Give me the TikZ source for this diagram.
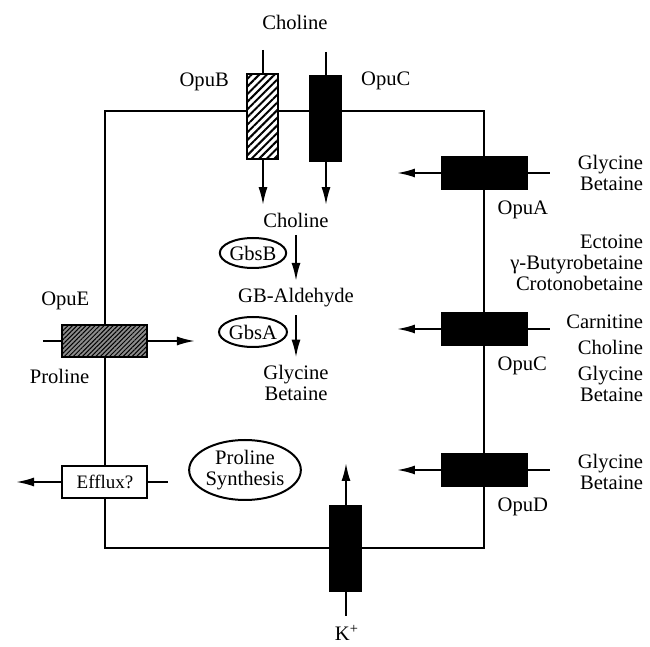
\documentclass[tikz,border=0pt]{standalone}
\usepackage{fontspec}
\setmainfont{Liberation Serif}
\usetikzlibrary{arrows.meta,positioning,shapes.geometric,patterns.meta}

\begin{document}
\begin{tikzpicture}[x=0.5pt,y=-0.5pt,>={Latex[length=9pt,width=4.5pt]},line width=1pt,node distance=3pt,font=\fontsize{10.3}{10.5}\selectfont]
  \tikzstyle{porter}=[draw,fill=black,inner sep=0pt,minimum width=42.5pt,minimum height=16pt]
  \tikzstyle{upright}=[porter,minimum width=15.5pt,minimum height=42.5pt]
  \tikzstyle{hatched}=[fill=white,postaction={pattern={Lines[angle=45,distance=2.7pt,line width=1pt]}}]
  \tikzstyle{finehatch}=[fill=black!45,postaction={pattern={Lines[angle=45,distance=1.6pt,line width=0.5pt]}}]
  \tikzstyle{enzyme}=[draw,ellipse,inner sep=0pt,minimum width=31.5pt,minimum height=15pt]
  \tikzstyle{solute}=[inner sep=1pt,align=right,anchor=east]
  \useasboundingbox (0,0) rectangle (650,647);
  \draw (105,111) rectangle (484,548);

  \node[upright,hatched] (opuB) at (263,117) {};
  \node[upright] (opuC) at (326,119) {};
  \node[left=5pt of opuB.north west,yshift=-4pt] {OpuB};
  \node[right=5.5pt of opuC.north east,yshift=-2.5pt] {OpuC};
  \node (choOut) at (295,22) {Choline};
  \coordinate (bIn) at (263,50);
  \coordinate (cIn) at (326,52);
  \node (cho) at (296,220) {Choline};
  \draw (bIn) -- (opuB);
  \draw (cIn) -- (opuC);
  \draw[->] (opuB) -- (opuB |- cho.north);
  \draw[->] (opuC) -- (opuC |- cho.north);

  \node[enzyme] (gbsB) at (253,253) {GbsB};
  \node[enzyme] (gbsA) at (253,332) {GbsA};
  \node (gba) at (296,298) {GB-Aldehyde};
  \node[align=center] (gb) at (296,383) {Glycine\\Betaine};
  \draw[->] (cho) -- (gba);
  \draw[->] (gba) -- (gb);

  \node[porter] (opuA) at (485,173) {};
  \node[porter] (opuCr) at (485,329) {};
  \node[porter] (opuD) at (485,470) {};
  \foreach \b/\t in {opuA/OpuA,opuCr/OpuC,opuD/OpuD}{
    \path (\b.center) ++(65,0) coordinate (\b-in) ++(-153,0) coordinate (\b-out);
    \draw (\b-in) -- (\b.east);
    \draw[->] (\b.west) -- (\b-out);
    \node[below right=1.5pt and 2.5pt of \b.south] {\t};
  }
  \node[solute] (gbA) at (646,173) {Glycine\\Betaine};
  \node[solute] (mix) at (646,318) {Ectoine\\γ-Butyrobetaine\\Crotonobetaine\\[8.5pt]Carnitine\\[2.5pt]Choline\\[2.5pt]Glycine\\Betaine};
  \node[solute] (gbD) at (646,472) {Glycine\\Betaine};

  \node[porter,finehatch] (opuE) at (105,341) {};
  \path (opuE.center) ++(-62,0) coordinate (eIn) ++(152,0) coordinate (eOut);
  \draw (eIn) -- (opuE.west);
  \draw[->] (opuE.east) -- (eOut);
  \node[above left=3pt and 4pt of opuE.north] {OpuE};
  \node[below left=2pt and 4pt of opuE.south] {Proline};

  \node[porter,fill=white,font=\fontsize{9.5}{10}\selectfont] (efx) at (105,482) {Efflux?};
  \path (efx.center) ++(-89,0) coordinate (xOut) ++(152,0) coordinate (xIn);
  \draw (xIn) -- (efx.east);
  \draw[->] (efx.west) -- (xOut);

  \node[enzyme,align=center,minimum width=52.5pt,minimum height=30pt] (pro) at (245,470) {Proline\\Synthesis};

  \node[upright] (kp) at (346,549) {};
  \path (kp.center) ++(0,67) coordinate (kIn) ++(0,-153) coordinate (kOut);
  \draw (kIn) -- (kp.south);
  \draw[->] (kp.north) -- (kOut);
  \node[inner sep=1pt] (kl) at (347,633) {K\textsuperscript{+}};
\end{tikzpicture}
\end{document}
